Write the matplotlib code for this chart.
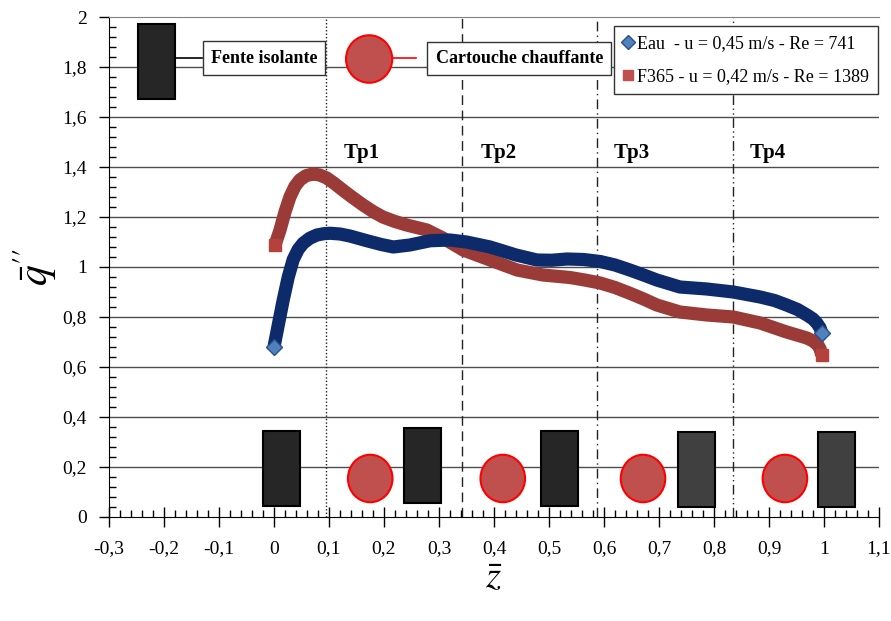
import numpy as np
import matplotlib.pyplot as plt
from matplotlib.patches import Rectangle, Ellipse
from matplotlib.ticker import MultipleLocator, FuncFormatter

# values
eau_z = [0.0, 0.008, 0.017, 0.026, 0.035, 0.044, 0.053, 0.065, 0.078, 0.09, 0.102,
         0.12, 0.138, 0.169, 0.195, 0.217, 0.247, 0.284, 0.32, 0.35, 0.393, 0.44,
         0.478, 0.505, 0.533, 0.563, 0.593, 0.62, 0.647, 0.672, 0.696, 0.738, 0.787,
         0.835, 0.884, 0.91, 0.932, 0.952, 0.969, 0.98, 0.987, 0.993, 0.996]
eau_q = [0.68, 0.77, 0.87, 0.96, 1.03, 1.07, 1.095, 1.115, 1.128, 1.133, 1.135,
         1.132, 1.124, 1.105, 1.09, 1.08, 1.088, 1.105, 1.108, 1.1, 1.08, 1.048,
         1.028, 1.027, 1.032, 1.03, 1.022, 1.008, 0.988, 0.968, 0.948, 0.92, 0.912,
         0.9, 0.88, 0.866, 0.848, 0.83, 0.808, 0.792, 0.776, 0.756, 0.736]
f365_z = [0.002, 0.006, 0.011, 0.02, 0.029, 0.038, 0.047, 0.058, 0.071, 0.083, 0.096,
          0.11, 0.125, 0.143, 0.162, 0.18, 0.198, 0.22, 0.241, 0.278, 0.307, 0.344,
          0.393, 0.442, 0.489, 0.538, 0.565, 0.593, 0.62, 0.647, 0.672, 0.696, 0.738,
          0.787, 0.835, 0.884, 0.932, 0.969, 0.98, 0.989, 0.993, 0.996]
f365_q = [1.088, 1.115, 1.148, 1.22, 1.28, 1.322, 1.348, 1.365, 1.372, 1.368, 1.356,
          1.334, 1.308, 1.278, 1.248, 1.222, 1.2, 1.182, 1.168, 1.148, 1.116, 1.068,
          1.028, 0.988, 0.968, 0.958, 0.948, 0.936, 0.918, 0.895, 0.872, 0.848, 0.82,
          0.808, 0.8, 0.776, 0.74, 0.716, 0.704, 0.688, 0.672, 0.648]
eau_label = 'Eau  - u = 0,45 m/s - Re = 741'
f365_label = 'F365 - u = 0,42 m/s - Re = 1389'

zone_names = ['Tp1', 'Tp2', 'Tp3', 'Tp4']
zone_bounds = [0.094, 0.3415, 0.587, 0.834]

plt.rcParams['font.family'] = ['Liberation Serif', 'DejaVu Serif']
plt.rcParams['mathtext.fontset'] = 'stix'

fig = plt.figure(figsize=(8.91, 6.21), dpi=100)
ax = fig.add_axes([0.1223, 0.1675, 0.8642, 0.8051])

ax.set_xlim(-0.3, 1.1)
ax.set_ylim(0, 2)

# horizontal grid
for yv in np.arange(0.2, 2.0, 0.2):
    ax.axhline(yv, color='#4d4d4d', lw=1.0, zorder=1)

# zone separators
styles = [(0, (1, 1.5)), (0, (7, 4)), (0, (7, 3, 1, 3)), (0, (7, 2.5, 1, 2.5, 1, 2.5))]
for xb, ls in zip(zone_bounds, styles):
    ax.axvline(xb, color='#222222', lw=1.0, linestyle=ls, zorder=1)

y_tp = 1.455
tp_x = [0.16, 0.408, 0.651, 0.898]
for name, xt in zip(zone_names, tp_x):
    ax.text(xt, y_tp, name, ha='center', va='center', fontsize=15, fontweight='bold')

# curves
ax.plot(eau_z, eau_q, color='#0d2a6b', lw=9.5, solid_capstyle='butt',
        solid_joinstyle='round', zorder=4)
ax.plot(eau_z, eau_q, ls='none', marker='D', ms=8.5, mfc='#4f81bd', mec='#2a4f8a',
        markevery=[0, -1], zorder=5)
ax.plot(f365_z, f365_q, color='#9b3b37', lw=9.5, solid_capstyle='butt',
        solid_joinstyle='round', zorder=3)
ax.plot(f365_z, f365_q, ls='none', marker='s', ms=8.5, mfc='#b5413d', mec='#b5413d',
        markevery=[0, -1], zorder=3)

# legend handles
h1, = ax.plot([], [], ls='none', marker='D', ms=7, mfc='#4f81bd', mec='#2a4f8a',
              label=eau_label)
h2, = ax.plot([], [], ls='none', marker='s', ms=7, mfc='#c0504d', mec='#c0504d',
              label=f365_label)
leg = ax.legend(handles=[h1, h2], loc='upper right', bbox_to_anchor=(0.999, 0.982),
                borderaxespad=0, fancybox=False, framealpha=1, edgecolor='#333333',
                fontsize=13, handlelength=0.55, handletextpad=0.25, labelspacing=0.9,
                borderpad=0.5)
leg.get_frame().set_linewidth(1.0)
leg.set_zorder(10)

# schematic: slots (dark rectangles) and heating cartridges (red discs)
rect_kw = dict(ec='black', lw=1.5, zorder=6)
circ_kw = dict(fc='#c0504d', ec='#ff0000', lw=1.5, zorder=6)

ax.add_patch(Rectangle((-0.248, 1.671), 0.068, 0.30, fc='#262626', **rect_kw))
ax.plot([-0.180, -0.131], [1.837, 1.837], color='black', lw=1.2, zorder=5)
ax.text(-0.018, 1.836, 'Fente isolante', ha='center', va='center', fontsize=13,
        fontweight='bold', zorder=7,
        bbox=dict(boxstyle='square,pad=0.45', fc='white', ec='#333333', lw=1.0))
ax.add_patch(Ellipse((0.173, 1.832), 0.084, 0.19, **circ_kw))
ax.plot([0.215, 0.258], [1.836, 1.836], color='#ff0000', lw=1.2, zorder=5)
ax.text(0.446, 1.834, 'Cartouche chauffante', ha='center', va='center', fontsize=13,
        fontweight='bold', zorder=7,
        bbox=dict(boxstyle='square,pad=0.45', fc='white', ec='#333333', lw=1.0))

slot_x = [-0.02, 0.236, 0.485, 0.735, 0.989]
slot_y = [0.044, 0.056, 0.044, 0.04, 0.04]
slot_c = ['#262626', '#262626', '#262626', '#404040', '#404040']
for sx, sy, sc in zip(slot_x, slot_y, slot_c):
    ax.add_patch(Rectangle((sx, sy), 0.067, 0.30, fc=sc, **rect_kw))
for cx in [0.175, 0.416, 0.671, 0.929]:
    ax.add_patch(Ellipse((cx, 0.154), 0.081, 0.19, **circ_kw))

# axes styling
ax.spines['right'].set_visible(False)
ax.spines['top'].set_color('#808080')
ax.spines['left'].set_color('black')
ax.spines['bottom'].set_color('black')

ax.xaxis.set_major_locator(MultipleLocator(0.1))
ax.xaxis.set_minor_locator(MultipleLocator(0.02))
ax.yaxis.set_major_locator(MultipleLocator(0.2))
ax.yaxis.set_minor_locator(MultipleLocator(0.04))

def comma(v, pos):
    s = f'{v:.1f}'.rstrip('0').rstrip('.')
    if s in ('-0', ''):
        s = '0'
    return s.replace('.', ',')

ax.xaxis.set_major_formatter(FuncFormatter(comma))
ax.yaxis.set_major_formatter(FuncFormatter(comma))
ax.tick_params(axis='x', which='major', direction='inout', length=14, width=1, labelsize=14, pad=10)
ax.tick_params(axis='x', which='minor', direction='in', length=5, width=1)
ax.tick_params(axis='y', which='major', direction='out', length=7, width=1, labelsize=14, pad=9)
ax.tick_params(axis='y', which='minor', direction='in', length=5, width=1)

ax.set_xlabel(r'$\bar{z}$', fontsize=28, labelpad=2)
ax.set_ylabel(r"$\bar{q}''$", fontsize=30, labelpad=2)

fig.savefig('out.png', dpi=100)
